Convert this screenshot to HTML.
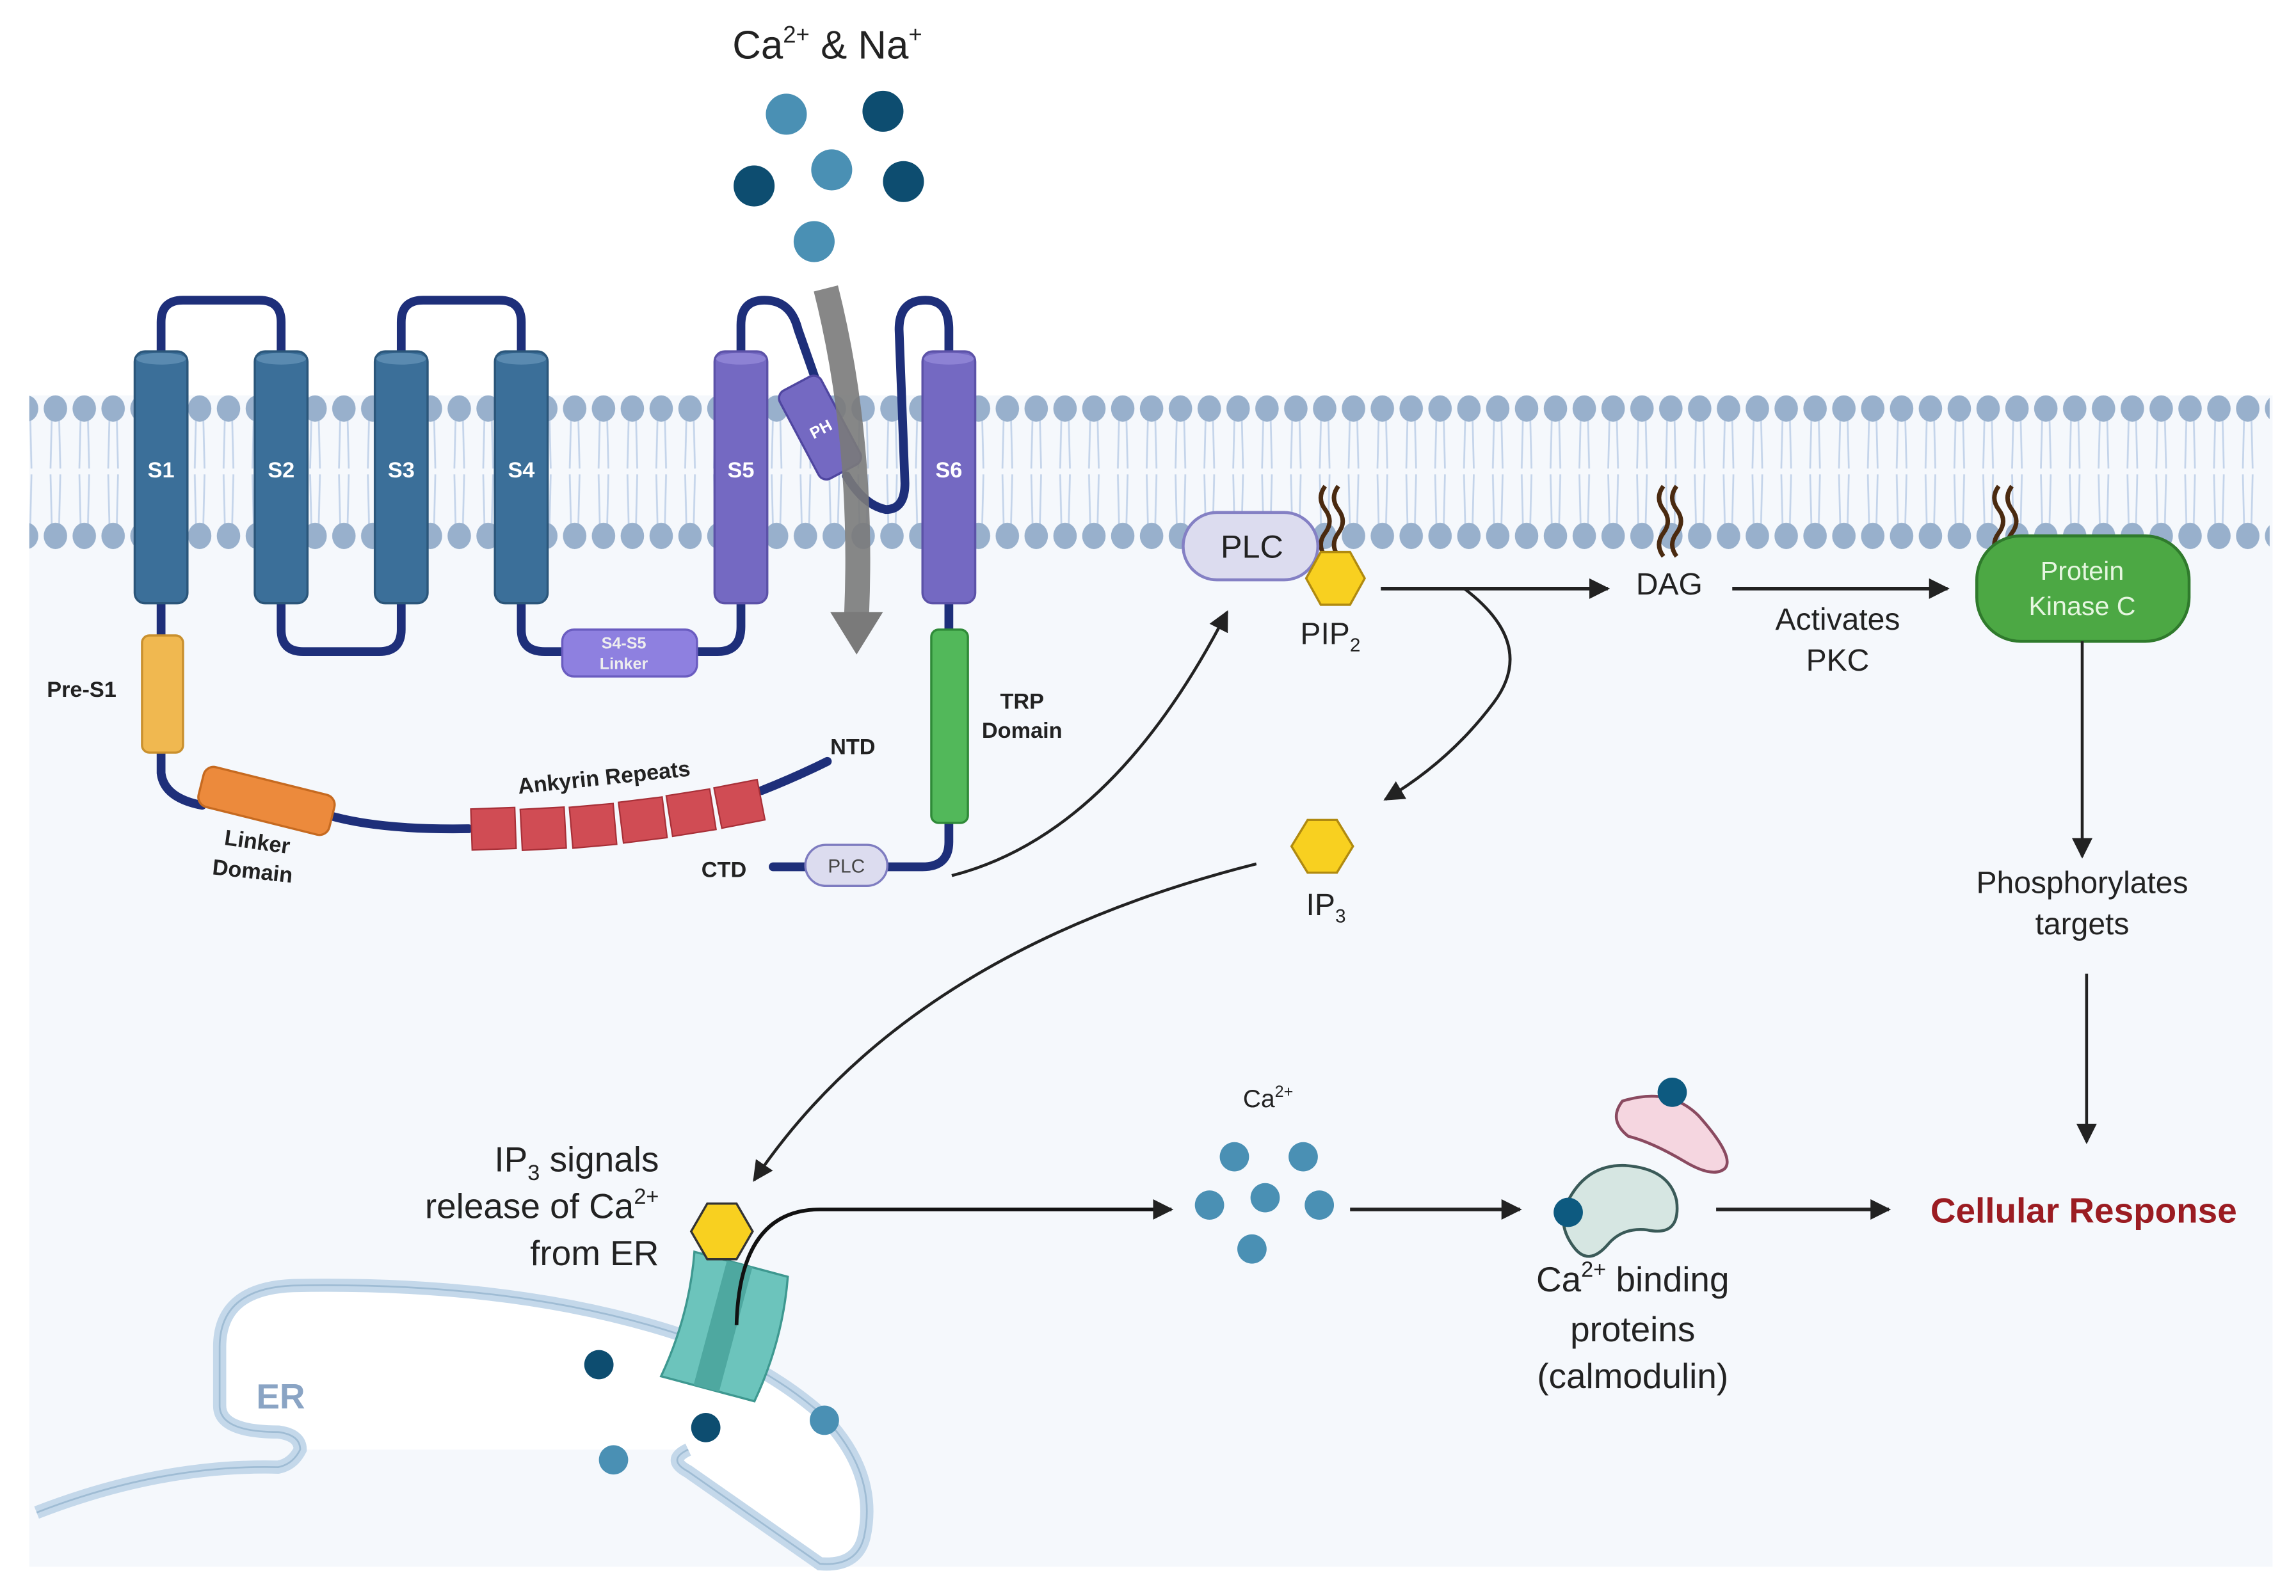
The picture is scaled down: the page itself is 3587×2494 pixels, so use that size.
<!DOCTYPE html>
<html><head><meta charset="utf-8"><style>html,body{margin:0;padding:0;background:#fff}svg{display:block}</style></head>
<body>
<svg width="3587" height="2494" viewBox="0 0 1568 1090" preserveAspectRatio="none" xmlns="http://www.w3.org/2000/svg" font-family="Liberation Sans, Arial, sans-serif">
<defs>
<pattern id="mem" x="28" y="262" width="19.7" height="120" patternUnits="userSpaceOnUse">
<path d="M7.5 17 L6.5 58 M12.2 17 L13.2 58 M6.5 62 L7.5 103 M13.2 62 L12.2 103" stroke="#c4d4ea" stroke-width="1.2" fill="none"/>
<ellipse cx="9.85" cy="17" rx="8" ry="9" fill="#98b0cc"/>
<ellipse cx="9.85" cy="104" rx="8" ry="9" fill="#98b0cc"/>
</pattern>
<marker id="ah2" viewBox="0 0 10 10" refX="9" refY="5" markerWidth="14" markerHeight="14" markerUnits="userSpaceOnUse" orient="auto"><path d="M0 0 L10 5 L0 10 z" fill="#222"/></marker>
</defs>
<rect x="20" y="270" width="1532" height="800" fill="#f5f8fc"/>
<rect x="20" y="262" width="1530" height="120" fill="url(#mem)"/>

<text x="565" y="40" font-size="27" text-anchor="middle" fill="#222">Ca<tspan font-size="16" dy="-11">2+</tspan><tspan dy="11"> &amp; Na</tspan><tspan font-size="16" dy="-11">+</tspan></text>
<g fill="#4a90b4"><circle cx="537" cy="78" r="14"/><circle cx="568" cy="116" r="14"/><circle cx="556" cy="165" r="14"/></g>
<g fill="#0d4d70"><circle cx="603" cy="76" r="14"/><circle cx="515" cy="127" r="14"/><circle cx="617" cy="124" r="14"/></g>

<g stroke="#1e2f7a" stroke-width="6" fill="none" stroke-linecap="round">
<path d="M110 245 V220 Q110 205 125 205 H177 Q192 205 192 220 V245"/>
<path d="M274 245 V220 Q274 205 289 205 H341 Q356 205 356 220 V245"/>
<path d="M192 410 V430 Q192 445 207 445 H259 Q274 445 274 430 V410"/>
<path d="M356 410 V430 Q356 445 372 445 H388"/>
<path d="M475 445 H490 Q506 445 506 428 V410"/>
<path d="M506 245 V222 Q506 205 522 205 Q540 205 545 225 L558 262"/>
<path d="M578 325 Q590 345 605 348 Q618 348 618 330 L614 225 Q614 205 632 205 Q648 205 648 225 V245"/>
<path d="M110 410 V437"/>
<path d="M110 510 V528 Q112 545 138 550"/>
<path d="M225 557 Q260 567 320 566"/>
<path d="M520 540 Q545 530 565 520"/>
<path d="M648 410 V432"/>
<path d="M648 558 V575 Q648 592 630 592 H600"/>
<path d="M556 592 H528"/>
</g>

<g fill="#3b6f99" stroke="#2b567a" stroke-width="1.5">
<rect x="92" y="240" width="36" height="172" rx="7"/><rect x="174" y="240" width="36" height="172" rx="7"/>
<rect x="256" y="240" width="36" height="172" rx="7"/><rect x="338" y="240" width="36" height="172" rx="7"/>
</g>
<g fill="#5a8ab0"><ellipse cx="110" cy="245" rx="17" ry="4"/><ellipse cx="192" cy="245" rx="17" ry="4"/><ellipse cx="274" cy="245" rx="17" ry="4"/><ellipse cx="356" cy="245" rx="17" ry="4"/></g>
<g fill="#7469c2" stroke="#5c52a8" stroke-width="1.5">
<rect x="488" y="240" width="36" height="172" rx="7"/><rect x="630" y="240" width="36" height="172" rx="7"/>
</g>
<g fill="#8d82d4"><ellipse cx="506" cy="245" rx="17" ry="4"/><ellipse cx="648" cy="245" rx="17" ry="4"/></g>
<g transform="rotate(-28 560 292)"><rect x="544" y="258" width="32" height="68" rx="6" fill="#7469c2" stroke="#4f46a0" stroke-width="1.5"/><text x="560" y="297" font-size="11" font-weight="bold" fill="#fff" text-anchor="middle">PH</text></g>
<path d="M564 197 Q590 300 585 420" stroke="#7a7a7a" stroke-opacity="0.9" stroke-width="17" fill="none"/>
<path d="M567 418 L603 418 L585 447 z" fill="#7a7a7a"/>
<g font-size="15" font-weight="bold" fill="#fff" text-anchor="middle">
<text x="110" y="326">S1</text><text x="192" y="326">S2</text><text x="274" y="326">S3</text><text x="356" y="326">S4</text><text x="506" y="326">S5</text><text x="648" y="326">S6</text></g>
<rect x="384" y="430" width="92" height="32" rx="8" fill="#8e80e0" stroke="#6a5cc0" stroke-width="1.5"/>
<text x="426" y="443" font-size="11" font-weight="bold" fill="#eee" text-anchor="middle">S4-S5</text><text x="426" y="457" font-size="11" font-weight="bold" fill="#eee" text-anchor="middle">Linker</text>
<rect x="97" y="434" width="28" height="80" rx="5" fill="#f0b850" stroke="#c9902e" stroke-width="1.5"/>
<text x="32" y="476" font-size="15" font-weight="bold" fill="#222">Pre-S1</text>
<g transform="rotate(14 182 547)"><rect x="136" y="533" width="92" height="28" rx="7" fill="#ec8a3c" stroke="#c66a20" stroke-width="1.5"/></g>
<text x="175" y="580" font-size="15" font-weight="bold" fill="#222" text-anchor="middle" transform="rotate(8 175 580)">Linker</text>
<text x="172" y="600" font-size="15" font-weight="bold" fill="#222" text-anchor="middle" transform="rotate(6 172 600)">Domain</text>
<g fill="#d04c54" stroke="#a83038" stroke-width="1">
<rect x="322" y="552" width="30" height="28" transform="rotate(-2 337 566)"/>
<rect x="356" y="552" width="30" height="28" transform="rotate(-3 371 566)"/>
<rect x="390" y="550" width="30" height="28" transform="rotate(-5 405 564)"/>
<rect x="424" y="546" width="30" height="28" transform="rotate(-7 439 560)"/>
<rect x="457" y="541" width="30" height="28" transform="rotate(-9 472 555)"/>
<rect x="490" y="535" width="30" height="28" transform="rotate(-11 505 549)"/>
</g>
<text x="413" y="536" font-size="15" font-weight="bold" fill="#222" text-anchor="middle" transform="rotate(-6 413 536)">Ankyrin Repeats</text>
<text x="567" y="515" font-size="15" font-weight="bold" fill="#222">NTD</text>
<text x="479" y="599" font-size="15" font-weight="bold" fill="#222">CTD</text>
<rect x="550" y="577" width="56" height="28" rx="14" fill="#dcdcef" stroke="#7e7cc0" stroke-width="1.5"/>
<text x="578" y="596" font-size="13" fill="#444" text-anchor="middle">PLC</text>
<rect x="636" y="430" width="25" height="132" rx="5" fill="#52b85a" stroke="#2f8a38" stroke-width="1.5"/>
<text x="698" y="484" font-size="15" font-weight="bold" fill="#222" text-anchor="middle">TRP</text>
<text x="698" y="504" font-size="15" font-weight="bold" fill="#222" text-anchor="middle">Domain</text>

<path d="M650 598 Q760 570 838 418" stroke="#222" stroke-width="2" fill="none" marker-end="url(#ah2)"/>
<g stroke="#4a2a10" stroke-width="3" fill="none"><path d="M905 332 q-6 8 0 16 q6 8 0 16 q-6 8 0 16"/><path d="M914 332 q-6 8 0 16 q6 8 0 16 q-6 8 0 16"/><path d="M1136 332 q-6 8 0 16 q6 8 0 16 q-6 8 0 16"/><path d="M1145 332 q-6 8 0 16 q6 8 0 16 q-6 8 0 16"/><path d="M1365 332 q-6 8 0 16 q6 8 0 16 q-6 8 0 16"/><path d="M1374 332 q-6 8 0 16 q6 8 0 16 q-6 8 0 16"/></g>
<rect x="808" y="350" width="92" height="46" rx="23" fill="#dcdcef" stroke="#8480c4" stroke-width="2"/>
<text x="855" y="381" font-size="22" fill="#222" text-anchor="middle">PLC</text>
<polygon points="902,377 922,377 932,395 922,413 902,413 892,395" fill="#f8d020" stroke="#b08a10" stroke-width="1.5"/>
<text x="888" y="440" font-size="21" fill="#222">PIP<tspan font-size="13" dy="5">2</tspan></text>
<path d="M943 402 H1098" stroke="#222" stroke-width="2.5" marker-end="url(#ah2)"/>
<path d="M1000 402 Q1050 440 1020 480 Q990 520 946 546" stroke="#222" stroke-width="2" fill="none" marker-end="url(#ah2)"/>
<text x="1140" y="406" font-size="21" fill="#222" text-anchor="middle">DAG</text>
<path d="M1183 402 H1330" stroke="#222" stroke-width="2.5" marker-end="url(#ah2)"/>
<text x="1255" y="430" font-size="21" fill="#222" text-anchor="middle">Activates</text>
<text x="1255" y="458" font-size="21" fill="#222" text-anchor="middle">PKC</text>
<rect x="1350" y="366" width="145" height="72" rx="30" fill="#4ca844" stroke="#2f7a2c" stroke-width="2"/>
<text x="1422" y="396" font-size="18" fill="#e6f6e0" text-anchor="middle">Protein</text>
<text x="1422" y="420" font-size="18" fill="#e6f6e0" text-anchor="middle">Kinase C</text>
<path d="M1422 438 V585" stroke="#222" stroke-width="2" marker-end="url(#ah2)"/>
<text x="1422" y="610" font-size="21" fill="#222" text-anchor="middle">Phosphorylates</text>
<text x="1422" y="638" font-size="21" fill="#222" text-anchor="middle">targets</text>
<path d="M1425 665 V780" stroke="#222" stroke-width="2" marker-end="url(#ah2)"/>
<text x="1423" y="835" font-size="24" font-weight="bold" fill="#9b1c22" text-anchor="middle">Cellular Response</text>

<polygon points="893,560 913,560 924,578 913,596 893,596 882,578" fill="#f8d020" stroke="#b08a10" stroke-width="1.5"/>
<text x="892" y="625" font-size="21" fill="#222">IP<tspan font-size="13" dy="5">3</tspan></text>
<path d="M858 590 Q620 650 515 806" stroke="#222" stroke-width="2" fill="none" marker-end="url(#ah2)"/>
<text x="450" y="800" font-size="24" fill="#222" text-anchor="end">IP<tspan font-size="15" dy="6">3</tspan><tspan dy="-6"> signals</tspan></text>
<text x="450" y="832" font-size="24" fill="#222" text-anchor="end">release of Ca<tspan font-size="15" dy="-10">2+</tspan></text>
<text x="450" y="864" font-size="24" fill="#222" text-anchor="end">from ER</text>

<!-- ER -->
<path d="M205 990 Q205 980 190 978 Q150 978 150 960 V920 Q150 880 200 878 Q350 875 460 910 Q520 930 560 965 Q600 1005 590 1050 Q585 1070 560 1068 L470 1005 Q455 997 470 990 Z" fill="#fff"/>
<path d="M25 1033 Q110 1000 190 1002 Q200 1000 205 990 Q205 980 190 978 Q150 978 150 960 V920 Q150 880 200 878 Q350 875 460 910 Q520 930 560 965 Q600 1005 590 1050 Q585 1070 560 1068 L470 1005 Q455 997 470 990" fill="none" stroke="#c4d8ea" stroke-width="9"/>
<path d="M25 1033 Q110 1000 190 1002 Q200 1000 205 990 Q205 980 190 978 Q150 978 150 960 V920 Q150 880 200 878 Q350 875 460 910 Q520 930 560 965 Q600 1005 590 1050 Q585 1070 560 1068 L470 1005 Q455 997 470 990" fill="none" stroke="#9fbcd4" stroke-width="1.2"/>
<text x="175" y="962" font-size="24" font-weight="bold" fill="#8aa4c4">ER</text>
<g transform="rotate(15 495 905)">
<path d="M462 862 H528 Q536 905 528 950 H462 Q470 905 462 862z" fill="#6cc4bc" stroke="#3e9890" stroke-width="1.5"/>
<rect x="485" y="862" width="18" height="88" fill="#4ea8a0"/>
</g>
<polygon points="483,822 503,822 514,841 503,860 483,860 472,841" fill="#f8d020" stroke="#333" stroke-width="1.5"/>
<path d="M503 905 Q505 826 560 826 H800" stroke="#111" stroke-width="2.5" fill="none" marker-end="url(#ah2)"/>
<g fill="#0d4d70"><circle cx="409" cy="932" r="10"/><circle cx="482" cy="975" r="10"/></g>
<g fill="#4a90b4"><circle cx="419" cy="997" r="10"/><circle cx="563" cy="970" r="10"/></g>

<text x="866" y="756" font-size="17" fill="#222" text-anchor="middle">Ca<tspan font-size="11" dy="-7">2+</tspan></text>
<g fill="#4a90b4"><circle cx="843" cy="790" r="10"/><circle cx="890" cy="790" r="10"/><circle cx="826" cy="823" r="10"/><circle cx="864" cy="818" r="10"/><circle cx="901" cy="823" r="10"/><circle cx="855" cy="853" r="10"/></g>
<path d="M922 826 H1038" stroke="#222" stroke-width="2.5" marker-end="url(#ah2)"/>
<path d="M1108 752 Q1140 742 1160 762 Q1185 790 1178 798 Q1170 805 1150 793 Q1128 780 1112 776 Q1098 765 1108 752z" fill="#f5d6e0" stroke="#8a4a60" stroke-width="2"/>
<circle cx="1142" cy="746" r="10" fill="#0d5a80"/>
<path d="M1072 818 Q1085 795 1110 796 Q1140 798 1145 820 Q1148 845 1125 840 Q1108 838 1098 850 Q1085 865 1075 852 Q1062 835 1072 818z" fill="#d6e6e2" stroke="#3a5a58" stroke-width="2"/>
<circle cx="1071" cy="828" r="10" fill="#0d5a80"/>
<path d="M1172 826 H1290" stroke="#222" stroke-width="2.5" marker-end="url(#ah2)"/>
<text x="1115" y="882" font-size="24" fill="#222" text-anchor="middle">Ca<tspan font-size="15" dy="-10">2+</tspan><tspan dy="10"> binding</tspan></text>
<text x="1115" y="916" font-size="24" fill="#222" text-anchor="middle">proteins</text>
<text x="1115" y="948" font-size="24" fill="#222" text-anchor="middle">(calmodulin)</text>
</svg>
</body></html>
